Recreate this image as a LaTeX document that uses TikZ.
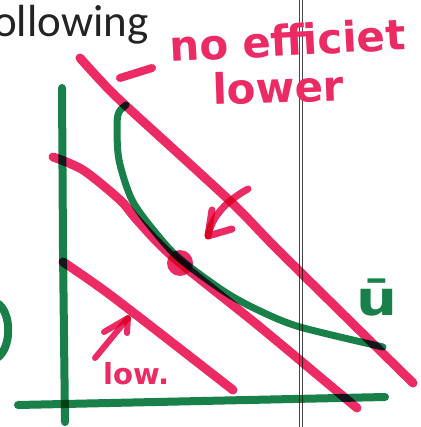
\documentclass[tikz,border=0pt]{standalone}
\usepackage{fontspec}
\newfontfamily\calib{Carlito}
\newfontfamily\hand{DejaVu Sans}
\definecolor{pinkink}{RGB}{236,42,100}
\definecolor{greenink}{RGB}{24,128,72}
\definecolor{textgray}{RGB}{35,35,35}
\definecolor{rulegray}{RGB}{70,70,70}
\begin{document}
\begin{tikzpicture}[x=1pt,y=-1pt,
  pinkline/.style={draw=pinkink, line width=9pt, line cap=round, line join=round, blend mode=multiply},
  greenline/.style={draw=greenink, line width=8pt, line cap=round, line join=round, blend mode=multiply},
  handtext/.style={inner sep=0pt, font=\hand\bfseries\fontsize{42}{42}\selectfont, text=pinkink},
  smalltext/.style={inner sep=0pt, font=\hand\bfseries\fontsize{29}{29}\selectfont, text=pinkink},
  printtext/.style={inner sep=0pt, font=\calib\fontsize{45}{45}\selectfont, text=textgray},
  rulestyle/.style={draw=rulegray, line width=1pt}]
\useasboundingbox (0,0) rectangle (420,427);
\fill[white] (0,0) rectangle (420,427);
% printed text
\node[printtext, anchor=base west] (title) at (-7,37) {ollowing};
% double rule
\draw[rulestyle] (299,0) -- (299,427);
\draw[rulestyle] (302,0) -- (302,427);
% axes
\draw[greenline] (62,88) -- (63,250) -- (65,422);
\draw[greenline] (18,405) -- (385,397);
% left arc
\draw[greenline] (-3,303) .. controls (12,312) and (12,348) .. (-3,358);
% indifference curve
\draw[greenline, line width=7pt] plot[smooth] coordinates {(126,105) (119,112) (117,125) (119,160) (132,200) (155,232) (180,259) (225,292) (260,311) (300,327) (383,347)};
% budget lines
\draw[pinkline] plot[smooth] coordinates {(80,58) (100,80) (124,104) (230,201) (280,252) (413,383)};
\draw[pinkline] plot[smooth] coordinates {(53,157) (83,170) (120,200) (137,220) (173,257) (260,327) (357,408)};
\draw[pinkline] plot[smooth] coordinates {(63,262) (113,297) (233,390)};
% tangency point
\fill[pinkink, blend mode=multiply] (180,263) circle (13);
% arrows
\draw[pinkline, line width=7pt] (248,189) .. controls (228,200) and (212,215) .. (208,236);
\draw[pinkline, line width=7pt] (212,210) -- (208,236) -- (232,229);
\draw[pinkline, line width=6pt] (95,358) -- (128,318);
\draw[pinkline, line width=6pt] (104,332) -- (128,318) -- (127,333);
% dash
\draw[pinkline, line width=8pt] (120,78) -- (152,68);
% handwritten text
\node[handtext, anchor=base west, rotate=3] (note1) at (170,62) {no efficiet};
\node[handtext, anchor=base west, rotate=2] (note2) at (213,105) {lower};
\node[smalltext, anchor=base west] (low) at (103,384) {low.};
\node[inner sep=0pt, anchor=base, font=\hand\bfseries\fontsize{48}{48}\selectfont, text=greenink] (ubar) at (377,315) {\scalebox{1.2}[1]{ū}};
\end{tikzpicture}
\end{document}
